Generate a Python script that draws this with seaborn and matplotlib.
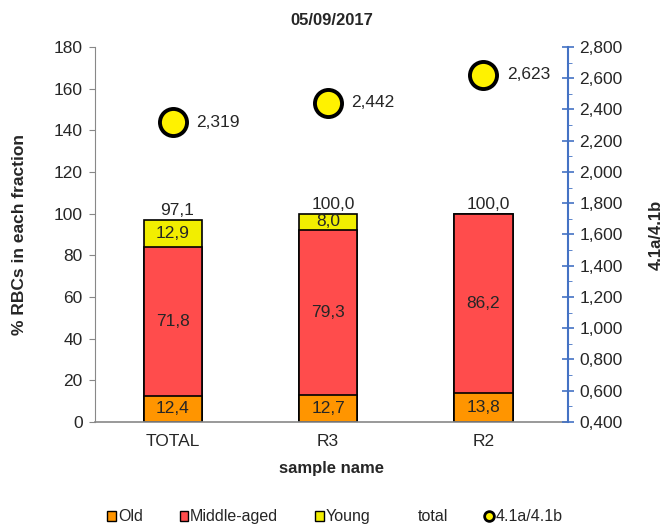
import matplotlib
matplotlib.use("Agg")
import matplotlib.pyplot as plt
import matplotlib.ticker as mticker
from matplotlib.patches import Patch
from matplotlib.lines import Line2D
import pandas as pd
import seaborn as sns

samples = ["TOTAL", "R3", "R2"]
old = [12.4, 12.7, 13.8]
middle = [71.8, 79.3, 86.2]
young = [12.9, 8.0, 0.0]
total = [97.1, 100.0, 100.0]
ratio = [2.319, 2.442, 2.623]

c_old = "#FF9500"
c_mid = "#FF4C4C"
c_young = "#F2EE00"
c_blue = "#4472C4"
fs = 12.5

sns.set_style("white")
plt.rcParams["font.family"] = ["Liberation Sans", "DejaVu Sans"]


def comma(v, decimals):
    return f"{v:.{decimals}f}".replace(".", ",")


df = pd.DataFrame({"sample": samples, "old": old, "middle": middle,
                   "young": young, "total": total, "ratio": ratio})
df["cum_mid"] = df["old"] + df["middle"]
df["cum_young"] = df["cum_mid"] + df["young"]

fig = plt.figure(figsize=(6.66, 5.28), dpi=100)
ax = fig.add_axes([0.143, 0.201, 0.710, 0.710])

# stacked bars drawn as overlapping cumulative bars
for col, color in [("cum_young", c_young), ("cum_mid", c_mid), ("old", c_old)]:
    sns.barplot(data=df, x="sample", y=col, color=color, width=0.375,
                edgecolor="black", linewidth=1.2, saturation=1, ax=ax)

for i in range(len(samples)):
    ax.text(i, old[i] / 2, comma(old[i], 1), ha="center", va="center", fontsize=fs)
    ax.text(i, old[i] + middle[i] / 2, comma(middle[i], 1), ha="center", va="center", fontsize=fs)
    if young[i] > 0:
        ax.text(i, old[i] + middle[i] + young[i] / 2, comma(young[i], 1),
                ha="center", va="center", fontsize=fs)
    ax.text(i + 0.03, total[i] + 0.8, comma(total[i], 1), ha="center", va="bottom", fontsize=fs)

ax.set_ylim(0, 180)
ax.set_xlim(-0.5, 2.545)
ax.yaxis.set_major_locator(mticker.MultipleLocator(20))
ax.set_xticks([0.5, 1.5], minor=True)
ax.tick_params(axis="x", which="major", length=0, labelsize=fs, pad=9)
ax.tick_params(axis="x", which="minor", length=3, color="#888888", direction="out")
ax.tick_params(axis="y", length=4, color="#888888", direction="out", labelsize=fs, left=True, pad=5)
ax.set_xlabel("sample name", fontsize=12, fontweight="bold")
ax.set_ylabel("% RBCs in each fraction", fontsize=12.5, fontweight="bold")
ax.xaxis.set_label_coords(0.5, -0.105)
ax.yaxis.set_label_coords(-0.145, 0.5)
for s in ["top", "right"]:
    ax.spines[s].set_visible(False)
ax.spines["left"].set_color("#888888")
ax.spines["bottom"].set_color("#888888")
ax.spines["bottom"].set_linewidth(1.2)

ax2 = ax.twinx()
sns.scatterplot(data=df, x="sample", y="ratio", s=380, color="#FFF200",
                edgecolor="black", linewidth=2.8, zorder=5, ax=ax2, legend=False)
for i in range(len(samples)):
    ax2.text(i + 0.15, ratio[i], comma(ratio[i], 3), ha="left", va="center", fontsize=fs)
ax2.set_ylim(0.4, 2.8)
ax2.set_xlim(-0.5, 2.545)
ax2.yaxis.set_major_locator(mticker.MultipleLocator(0.2))
ax2.yaxis.set_minor_locator(mticker.MultipleLocator(0.1))
ax2.yaxis.set_major_formatter(mticker.FuncFormatter(lambda v, p: comma(v, 3)))
ax2.tick_params(axis="y", which="major", direction="inout", length=8, width=1.2,
                color=c_blue, labelsize=fs, pad=4)
ax2.tick_params(axis="y", which="minor", direction="out", length=3, color=c_blue)
ax2.set_ylabel("4.1a/4.1b", fontsize=12, fontweight="bold")
ax2.yaxis.set_label_coords(1.17, 0.5)
ax2.set_xlabel("")
for s in ["top", "left", "bottom"]:
    ax2.spines[s].set_visible(False)
ax2.spines["right"].set_color(c_blue)
ax2.spines["right"].set_linewidth(1.5)

ax.set_title("05/09/2017", fontsize=12, fontweight="bold", pad=16)

handles = [
    Patch(facecolor=c_old, edgecolor="black", linewidth=1),
    Patch(facecolor=c_mid, edgecolor="black", linewidth=1),
    Patch(facecolor=c_young, edgecolor="black", linewidth=1),
    Line2D([], [], linestyle="none"),
    Line2D([], [], marker="o", linestyle="none", markerfacecolor="#FFF200",
           markeredgecolor="black", markeredgewidth=2, markersize=7),
]
fig.legend(handles, ["Old", "Middle-aged", "Young", "total", "4.1a/4.1b"],
           loc="center", bbox_to_anchor=(0.503, 0.021), ncol=5, frameon=False,
           fontsize=11.5, handlelength=0.55, handleheight=0.55, handletextpad=0.12,
           columnspacing=2.3, borderpad=0)

fig.savefig("out.png", dpi=100)
plt.close(fig)
